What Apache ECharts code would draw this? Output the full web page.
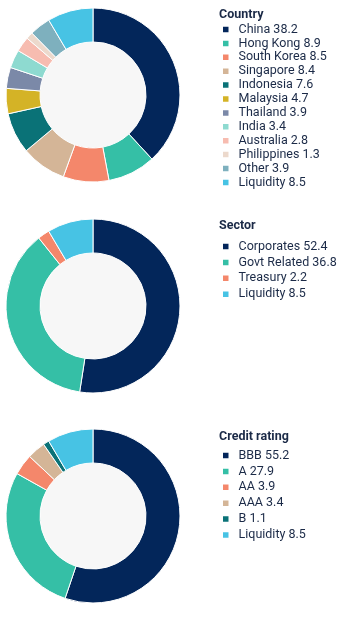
<!DOCTYPE html>
<html><head><meta charset="utf-8">
<script src="https://cdn.jsdelivr.net/npm/echarts@6/dist/echarts.min.js"></script>
<style>html,body{margin:0;padding:0;background:#fff}#c{width:347px;height:620px}</style>
</head><body><div id="c"></div>
<script>
const countryNames = ['China','Hong Kong','South Korea','Singapore','Indonesia','Malaysia','Thailand','India','Australia','Philippines','Other','Liquidity'];
const countryValues = [38.2, 8.9, 8.5, 8.4, 7.6, 4.7, 3.9, 3.4, 2.8, 1.3, 3.9, 8.5];
const sectorNames = ['Corporates','Govt Related','Treasury','Liquidity'];
const sectorValues = [52.4, 36.8, 2.2, 8.5];
const ratingNames = ['BBB','A','AA','AAA','B','Liquidity'];
const ratingValues = [55.2, 27.9, 3.9, 3.4, 1.1, 8.5];
const titles = ['Country','Sector','Credit rating'];

const countryColors = ['#03265a','#35bfa6','#f4876b','#d4b597','#0a7277','#d4b326','#7b89a8','#8edad0','#f7bcb0','#ecd9cc','#7eb0be','#47c3e4'];
const sectorColors = ['#03265a','#35bfa6','#f4876b','#47c3e4'];
const ratingColors = ['#03265a','#35bfa6','#f4876b','#d4b597','#0a7277','#47c3e4'];

const textColor = '#1b2a47';
const font = 'Roboto';

function lookup(names, values){ const m={}; names.forEach((n,i)=>m[n]=values[i]); return m; }
const maps = [lookup(countryNames,countryValues), lookup(sectorNames,sectorValues), lookup(ratingNames,ratingValues)];

const groups = [
  {names: countryNames, values: countryValues, colors: countryColors, cy: 95, titleTop: 8, legendTop: 23, gap: 0.9},
  {names: sectorNames, values: sectorValues, colors: sectorColors, cy: 306, titleTop: 219, legendTop: 240, gap: 2.9},
  {names: ratingNames, values: ratingValues, colors: ratingColors, cy: 516, titleTop: 430, legendTop: 449, gap: 2.9}
];

const series = [];
const legends = [];
const titleArr = [];
groups.forEach((g, gi) => {
  series.push({
    type: 'pie', name: 'bg' + gi, center: [93, g.cy], radius: [0, 54], silent: true,
    label: {show: false}, labelLine: {show: false},
    data: [{value: 1, name: '__bg' + gi, itemStyle: {color: '#f7f7f7'}}]
  });
  series.push({
    type: 'pie', name: titles[gi], center: [93, g.cy], radius: [53, 87], startAngle: 90, clockwise: true,
    avoidLabelOverlap: false, silent: true,
    label: {show: false}, labelLine: {show: false},
    itemStyle: {borderColor: '#ffffff', borderWidth: 1},
    data: g.names.map((n, i) => ({name: n, value: g.values[i], itemStyle: {color: g.colors[i]}}))
  });
  titleArr.push({
    text: titles[gi], left: 219, top: g.titleTop, padding: 0,
    textStyle: {fontFamily: font, fontSize: 12.5, fontWeight: 'bold', color: textColor, lineHeight: 14}
  });
  const m = maps[gi];
  legends.push({
    orient: 'vertical', left: 221, top: g.legendTop, padding: 0,
    itemWidth: 7.5, itemHeight: 7.5, itemGap: g.gap, selectedMode: false,
    icon: 'rect',
    data: g.names,
    formatter: name => name + ' ' + m[name].toFixed(1),
    textStyle: {fontFamily: font, fontSize: 12.5, color: textColor, lineHeight: 12, padding: [0, 0, 0, 4]}
  });
});

const chart = echarts.init(document.getElementById('c'), null, {renderer: 'canvas'});
chart.setOption({
  backgroundColor: '#ffffff',
  animation: false,
  title: titleArr,
  legend: legends,
  series: series
});
</script></body></html>
